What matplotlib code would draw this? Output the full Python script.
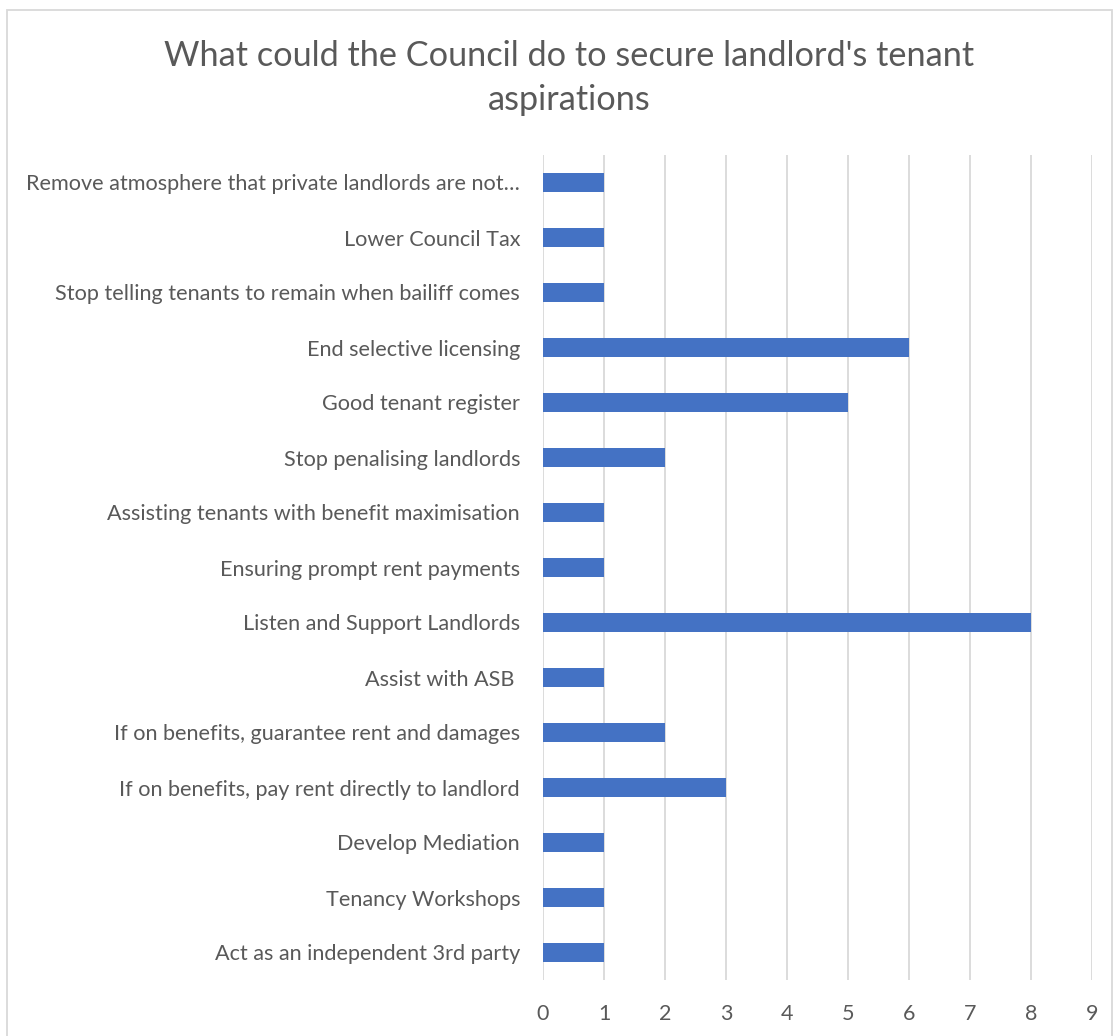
import matplotlib
matplotlib.use("Agg")
import matplotlib.pyplot as plt
from matplotlib.patches import Rectangle

categories = [
    "Remove atmosphere that private landlords are not\u2026",
    "Lower Council Tax",
    "Stop telling tenants to remain when bailiff comes",
    "End selective licensing",
    "Good tenant register",
    "Stop penalising landlords",
    "Assisting tenants with benefit maximisation",
    "Ensuring prompt rent payments",
    "Listen and Support Landlords",
    "Assist with ASB ",
    "If on benefits, guarantee rent and damages",
    "If on benefits, pay rent directly to landlord",
    "Develop Mediation",
    "Tenancy Workshops",
    "Act as an independent 3rd party",
]
values = [1, 1, 1, 6, 5, 2, 1, 1, 8, 1, 2, 3, 1, 1, 1]
xticks = list(range(0, 10))
title = "What could the Council do to secure landlord's tenant\naspirations"

plt.rcParams['font.family'] = ['Lato', 'DejaVu Sans']
text_color = "#595959"
grid_color = "#D9D9D9"
bar_color = "#4472C4"

fig = plt.figure(figsize=(11.15, 10.36), dpi=100)
ax = fig.add_axes([543/1115, 1 - 980/1036, (1092 - 543)/1115, (980 - 155)/1036])

cats = categories[::-1]
vals = values[::-1]
ypos = list(range(len(cats)))
ax.barh(ypos, vals, height=0.355, color=bar_color, zorder=3)

ax.set_xlim(0, 9)
ax.set_ylim(-0.5, len(cats) - 0.5)
ax.set_xticks(xticks)
ax.set_xticklabels([str(t) for t in xticks], fontsize=15.5, color=text_color)
ax.set_yticks(ypos)
ax.set_yticklabels(cats, fontsize=15.6, color=text_color)
ax.tick_params(axis='both', length=0)
ax.tick_params(axis='y', pad=16.5)
ax.tick_params(axis='x', pad=17)
ax.grid(axis='x', color=grid_color, linewidth=1.3, zorder=0)
for s in ax.spines.values():
    s.set_visible(False)

fig.text(569/1115, 1 - 78/1036, title, ha='center', va='center',
         fontsize=24.7, color=text_color, linespacing=1.45)

fig.patches.append(Rectangle((7/1115, -0.01), (1112 - 7)/1115, 1.01 - 10/1036,
                             transform=fig.transFigure, fill=False,
                             edgecolor=grid_color, linewidth=1.3))

fig.savefig("out.png", dpi=100)
